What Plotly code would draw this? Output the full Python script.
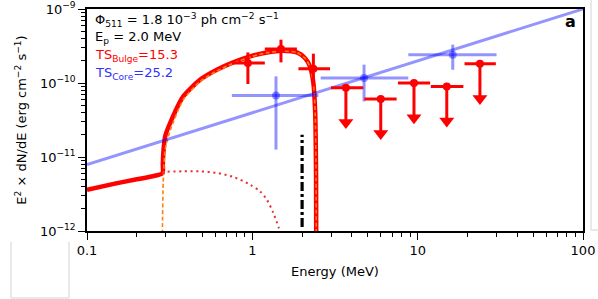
import plotly.graph_objects as go

# ---------------- data ----------------
# total bulge model (thick red)
TOTAL_E = [0.1, 0.15, 0.2, 0.25, 0.286, 0.2875, 0.289, 0.297, 0.319, 0.382, 0.484, 0.61, 0.766,
           0.97, 1.224, 1.54, 1.86, 2.08, 2.23, 2.34, 2.40, 2.43, 2.44]
TOTAL_F = [3.6e-12, 4.4e-12, 5.0e-12, 5.5e-12, 6.0e-12, 8.0e-12, 1.07e-11, 1.9e-11, 2.91e-11, 6.59e-11,
           1.11e-10, 1.51e-10, 1.9e-10, 2.29e-10, 2.59e-10, 2.73e-10, 2.59e-10, 2.18e-10,
           1.68e-10, 1.0e-10, 3.97e-11, 5e-12, 1e-13]
# in-flight component (orange dashed)
IA_E = [0.2855, 0.286, 0.289, 0.297, 0.319, 0.382, 0.484, 0.61, 0.766, 0.97, 1.224, 1.54,
        1.86, 2.08, 2.23, 2.34, 2.40, 2.43, 2.44]
IA_F = [1e-13, 1e-12, 4.5e-12, 1.27e-11, 2.3e-11, 5.95e-11, 1.05e-10, 1.45e-10, 1.85e-10,
        2.25e-10, 2.56e-10, 2.72e-10, 2.58e-10, 2.17e-10, 1.67e-10, 1.0e-10, 3.97e-11, 5e-12, 1e-13]
# second component (red dotted)
DOT_E = [0.286, 0.297, 0.383, 0.484, 0.61, 0.769, 0.97, 1.114, 1.224, 1.34, 1.44, 1.47]
DOT_F = [6.0e-12, 6.27e-12, 6.4e-12, 6.4e-12, 6.08e-12, 5.37e-12, 4.22e-12, 3.43e-12,
         2.65e-12, 1.75e-12, 1.13e-12, 1.0e-12]

# bulge detections
BULGE_E = [0.94, 1.49, 2.34]
BULGE_E_LO = [0.752, 1.19, 1.90]
BULGE_E_HI = [1.19, 1.86, 2.95]
BULGE_F = [1.86e-10, 2.88e-10, 1.56e-10]
BULGE_F_LO = [9.7e-11, 1.90e-10, 9.5e-11]
BULGE_F_HI = [2.59e-10, 3.85e-10, 2.49e-10]

# bulge upper limits
UL_E = [3.68, 5.98, 9.5, 15.0, 23.8]
UL_E_LO = [2.99, 4.76, 7.6, 12.0, 19.2]
UL_E_HI = [4.69, 7.46, 11.9, 18.9, 29.7]
UL_F = [8.6e-11, 6.1e-11, 1.0e-10, 9.0e-11, 1.82e-10]

# core points
CORE_E = [1.39, 4.74, 16.3]
CORE_E_LO = [0.752, 2.59, 8.78]
CORE_E_HI = [2.51, 8.78, 30.0]
CORE_F = [6.8e-11, 1.17e-10, 2.41e-10]
CORE_F_LO = [1.26e-11, 5.64e-11, 1.51e-10]
CORE_F_HI = [1.23e-10, 1.77e-10, 3.3e-10]

# core power law
PL_E = [0.1, 100]
PL_F = [7.9e-12, 1.0e-9]

# E_p marker
EP = 2.0
EP_F = [1.13e-12, 2.0e-11]

X_TICKS = [0.1, 1, 10, 100]
X_TICKTEXT = ["0.1", "1", "10", "100"]
Y_TICKS = [1e-12, 1e-11, 1e-10, 1e-9]
Y_TICKTEXT = ["10<sup>\u221212</sup>", "10<sup>\u221211</sup>", "10<sup>\u221210</sup>", "10<sup>\u22129</sup>"]

ARROW_FACTOR = 0.29  # arrow length of upper limits (fraction of value)

FONT = "DejaVu Sans"
RED = "#ff0000"
BLUE = "rgba(0,0,255,0.42)"

fig = go.Figure()

# model curves
fig.add_trace(go.Scatter(x=TOTAL_E, y=TOTAL_F, mode="lines",
                         line=dict(color=RED, width=4.5, shape="spline", smoothing=0.6),
                         hoverinfo="skip"))
fig.add_trace(go.Scatter(x=IA_E, y=IA_F, mode="lines",
                         line=dict(color="#ff7f0e", width=1.6, dash="4px,2.5px", shape="spline", smoothing=0.6),
                         hoverinfo="skip"))
fig.add_trace(go.Scatter(x=DOT_E, y=DOT_F, mode="lines",
                         line=dict(color="#e8302e", width=2, dash="2px,3.7px", shape="spline", smoothing=0.8),
                         hoverinfo="skip"))

# E_p line
fig.add_trace(go.Scatter(x=[EP, EP], y=EP_F, mode="lines",
                         line=dict(color="black", width=3.2, dash="9px,3px,3px,3px"),
                         hoverinfo="skip"))

# core power law and points
fig.add_trace(go.Scatter(x=PL_E, y=PL_F, mode="lines",
                         line=dict(color=BLUE, width=3), hoverinfo="skip"))
fig.add_trace(go.Scatter(
    x=CORE_E, y=CORE_F, mode="markers",
    marker=dict(color=BLUE, size=8),
    error_x=dict(type="data", symmetric=False,
                 array=[h - e for h, e in zip(CORE_E_HI, CORE_E)],
                 arrayminus=[e - l for e, l in zip(CORE_E, CORE_E_LO)],
                 color=BLUE, thickness=3, width=0),
    error_y=dict(type="data", symmetric=False,
                 array=[h - f for h, f in zip(CORE_F_HI, CORE_F)],
                 arrayminus=[f - l for f, l in zip(CORE_F, CORE_F_LO)],
                 color=BLUE, thickness=3, width=0),
    hoverinfo="skip"))

# bulge detections
fig.add_trace(go.Scatter(
    x=BULGE_E, y=BULGE_F, mode="markers",
    marker=dict(color=RED, size=8),
    error_x=dict(type="data", symmetric=False,
                 array=[h - e for h, e in zip(BULGE_E_HI, BULGE_E)],
                 arrayminus=[e - l for e, l in zip(BULGE_E, BULGE_E_LO)],
                 color=RED, thickness=3, width=0),
    error_y=dict(type="data", symmetric=False,
                 array=[h - f for h, f in zip(BULGE_F_HI, BULGE_F)],
                 arrayminus=[f - l for f, l in zip(BULGE_F, BULGE_F_LO)],
                 color=RED, thickness=3, width=0),
    hoverinfo="skip"))

# bulge upper limits
fig.add_trace(go.Scatter(
    x=UL_E, y=UL_F, mode="markers",
    marker=dict(color=RED, size=8),
    error_x=dict(type="data", symmetric=False,
                 array=[h - e for h, e in zip(UL_E_HI, UL_E)],
                 arrayminus=[e - l for e, l in zip(UL_E, UL_E_LO)],
                 color=RED, thickness=3, width=0),
    error_y=dict(type="data", symmetric=False,
                 array=[0] * len(UL_F),
                 arrayminus=[f * (1 - ARROW_FACTOR * 1.1) for f in UL_F],
                 color=RED, thickness=3, width=0),
    hoverinfo="skip"))
fig.add_trace(go.Scatter(
    x=UL_E, y=[f * ARROW_FACTOR * 1.17 for f in UL_F], mode="markers",
    marker=dict(color=RED, size=13, symbol="triangle-down", line=dict(width=0)),
    hoverinfo="skip"))

# ---------------- layout ----------------
W, H = 598, 299
L, R, T, B = 87, 15, 9, 68
pw, ph = W - L - R, H - T - B

def px(xp):
    return (xp - L) / pw

def py(yp):
    return (H - B - yp) / ph

def minor_vals(lo, hi):
    return [k * 10 ** d for d in range(lo, hi) for k in range(2, 10)]

axis_common = dict(type="log", showline=True, linecolor="black", linewidth=1.5,
                   mirror=True, ticks="outside", ticklen=7, tickwidth=1.3, tickcolor="black",
                   showgrid=False, zeroline=False, automargin=False,
                   tickfont=dict(family=FONT, size=13, color="black"))

fig.update_layout(
    width=W, height=H,
    margin=dict(l=L, r=R, t=T, b=B),
    paper_bgcolor="white", plot_bgcolor="white",
    showlegend=False,
    font=dict(family=FONT, size=13, color="black"),
    xaxis=dict(range=[-1, 2], tickmode="array", tickvals=X_TICKS, ticktext=X_TICKTEXT,
               minor=dict(tickmode="array", tickvals=minor_vals(-1, 2), ticks="outside",
                          ticklen=4, tickwidth=1, tickcolor="black"),
               title=dict(text="Energy (MeV)", font=dict(family=FONT, size=13), standoff=10),
               **axis_common),
    yaxis=dict(range=[-12, -9], tickmode="array", tickvals=Y_TICKS, ticktext=Y_TICKTEXT,
               minor=dict(tickmode="array", tickvals=minor_vals(-12, -9), ticks="outside",
                          ticklen=4, tickwidth=1, tickcolor="black"),
               title=dict(text="E<sup>2</sup> \u00d7 dN/dE (erg cm<sup>\u22122</sup> s<sup>\u22121</sup>)",
                          font=dict(family=FONT, size=13), standoff=10),
               **axis_common),
)

ann = [
    dict(text="\u03a6<sub>511</sub> = 1.8 10<sup>\u22123</sup> ph cm<sup>\u22122</sup> s<sup>\u22121</sup>",
         x=px(93), y=py(20), color="black"),
    dict(text="E<sub>p</sub> = 2.0 MeV", x=px(93), y=py(37), color="black"),
    dict(text="TS<sub>Bulge</sub>=15.3", x=px(93), y=py(55), color=RED),
    dict(text="TS<sub>Core</sub>=25.2", x=px(93), y=py(73), color="#3030ff"),
]
for a in ann:
    fig.add_annotation(text=a["text"], x=a["x"], y=a["y"], xref="paper", yref="paper",
                       xanchor="left", yanchor="middle", showarrow=False,
                       font=dict(family=FONT, size=13, color=a["color"]))
fig.add_annotation(text="<b>a</b>", x=px(578), y=py(21), xref="paper", yref="paper",
                   xanchor="right", yanchor="middle", showarrow=False,
                   font=dict(family=FONT, size=16, color="black"))

# neighbouring-panel fragments (light grey)
fig.add_shape(type="path", xref="paper", yref="paper",
              path=f"M {px(11)} {py(242)} L {px(11)} {py(298)} L {px(69)} {py(298)} L {px(69)} {py(242)}",
              line=dict(color="#d3d3d3", width=1))
fig.add_shape(type="path", xref="paper", yref="paper",
              path=f"M {px(591)} {py(0)} L {px(591)} {py(230)} L {px(598)} {py(230)}",
              line=dict(color="#d3d3d3", width=1))

# remove the default page margin so the figure sits at the window's corner
fig.write_html("out.html", config={"displayModeBar": False},
               post_script="document.body.style.margin='0px';document.body.style.overflow='hidden';")
